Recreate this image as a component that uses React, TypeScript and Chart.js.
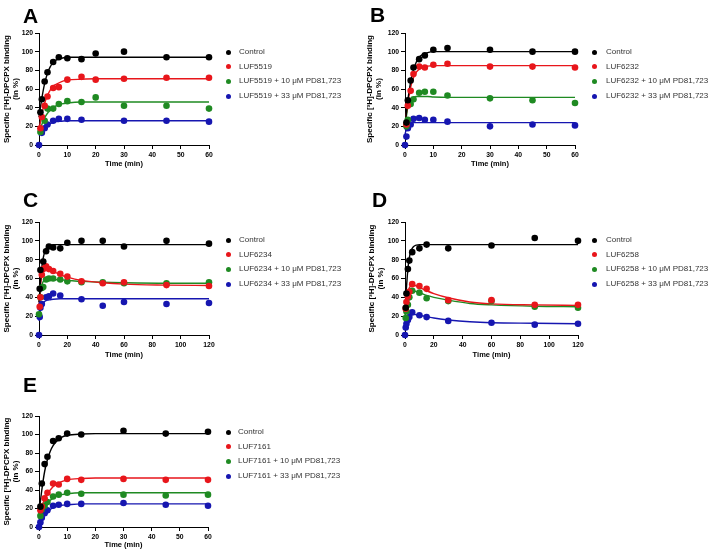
import React, { useEffect, useRef } from 'react';
import { Chart, registerables } from 'chart.js';

Chart.register(...registerables);

const FONT = '"Liberation Sans", Arial, Helvetica, sans-serif';
const COLORS = ['#000000', '#e8161b', '#1f8a22', '#1616b0'];

type Pt = [number, number];

// ---------- tick / axis settings ----------
const yTicks = { min: 0, max: 120, step: 20 };
const yTitle = ['Specific [³H]-DPCPX binding', '(in %)'];
const xTitle = 'Time (min)';

// ---------- fitted-curve sample times ----------
const fitXShort = [0, 1, 2, 3, 4, 5, 6, 8, 10, 15, 20, 30, 45, 60];
const fitXLong = [0, 1, 2, 3, 4, 5, 6, 8, 10, 15, 20, 30, 45, 60, 90, 120];

// ---------- Panel A : LUF5519 ----------
const ctrlA: Pt[] = [[0.5, 35], [1, 49], [2, 68], [3, 78], [5, 89], [7, 94], [10, 93], [15, 92], [20, 98], [30, 100], [45, 94], [60, 94]];
const drugA: Pt[] = [[0.5, 18], [1, 30], [2, 42], [3, 52], [5, 61], [7, 62], [10, 70], [15, 73], [20, 70], [30, 71], [45, 72], [60, 72]];
const pd10A: Pt[] = [[0.5, 14], [2, 26], [3, 39], [5, 39], [7, 44], [10, 47], [15, 46], [20, 51], [30, 42], [45, 42], [60, 39]];
const pd33A: Pt[] = [[0, 0], [1, 13], [2, 18], [3, 22], [5, 26], [7, 28], [10, 28], [15, 27], [30, 26], [45, 26], [60, 25]];
const fitCtrlA = [30, 50, 66, 77, 84, 88, 91, 93, 94, 94, 94, 94, 94, 94];
const fitDrugA = [15, 33, 45, 53, 59, 63, 65, 68, 69.5, 70.5, 71, 71, 71, 71];
const fitPd10A = [12, 22, 29, 34, 37, 40, 42, 44, 45, 46, 46, 46, 46, 46];
const fitPd33A = [10, 15, 19, 21, 23, 24, 25, 25.5, 26, 26, 26, 26, 26, 26];

// ---------- Panel B : LUF6232 ----------
const ctrlB: Pt[] = [[0.5, 24], [1, 48], [2, 69], [3, 83], [5, 92], [7, 96], [10, 102], [15, 104], [30, 102], [45, 100], [60, 100]];
const drugB: Pt[] = [[0.5, 22], [1, 42], [2, 58], [3, 76], [5, 84], [7, 83], [10, 86], [15, 87], [30, 84], [45, 84], [60, 83]];
const pd10B: Pt[] = [[0.5, 20], [1, 27], [2, 44], [3, 49], [5, 56], [7, 57], [10, 57], [15, 53], [30, 50], [45, 48], [60, 45]];
const pd33B: Pt[] = [[0, 0], [0.5, 9], [1, 18], [2, 22], [3, 28], [5, 29], [7, 27], [10, 27], [15, 25], [30, 20], [45, 22], [60, 21]];
const fitCtrlB = [20, 48, 68, 81, 89, 94, 96.5, 99, 100, 100, 100, 100, 100, 100];
const fitDrugB = [22, 45, 62, 72, 78, 81, 83, 84.5, 85, 85, 85, 85, 85, 85];
const fitPd10B = [20, 40, 48, 51, 52, 52, 52, 52, 51.5, 51, 51, 51, 51, 51];
const fitPd33B = [12, 20, 23, 24, 24, 24, 24, 24, 24, 24, 24, 24, 24, 24];

// ---------- Panel C : LUF6234 ----------
const ctrlC: Pt[] = [[0.5, 49], [1, 69], [3, 78], [5, 89], [7, 94], [10, 93], [15, 92], [20, 98], [30, 100], [45, 100], [60, 94], [90, 100], [120, 97]];
const drugC: Pt[] = [[0.5, 30], [1, 40], [2, 64], [3, 70], [5, 73], [7, 70], [10, 68], [15, 65], [20, 62], [30, 57], [45, 55], [60, 56], [90, 53], [120, 52]];
const pd10C: Pt[] = [[0, 22], [1, 40], [2, 50], [3, 51], [5, 59], [7, 60], [10, 60], [15, 59], [20, 57], [30, 56], [45, 56], [60, 55], [90, 55], [120, 56]];
const pd33C: Pt[] = [[0, 0], [0.5, 19], [1, 29], [2, 33], [5, 40], [7, 41], [10, 44], [15, 42], [30, 38], [45, 31], [60, 35], [90, 33], [120, 34]];
const fitCtrlC = [35, 55, 72, 82, 88, 92, 94, 95.5, 96, 96, 96, 96, 96, 96, 96, 96];
const fitDrugC = [30, 52, 63, 68, 70.5, 71, 70.5, 69, 67.5, 64, 61.5, 58, 55.5, 54, 53, 52.5];
const fitPd10C = [30, 45, 53, 57, 59, 59.5, 59.5, 59.5, 59, 58.5, 58, 57, 56, 55.5, 55, 55];
const fitPd33C = [15, 26, 31, 34, 35.5, 36.5, 37, 37.5, 38, 38.5, 38.5, 38.5, 38.5, 38.5, 38.5, 38.5];

// ---------- Panel D : LUF6258 ----------
const ctrlD: Pt[] = [[0.5, 29], [1, 44], [2, 70], [3, 79], [5, 88], [10, 92], [15, 96], [30, 92], [60, 95], [90, 103], [120, 100]];
const drugD: Pt[] = [[0.5, 28], [1, 35], [2, 41], [3, 46], [5, 54], [10, 52], [15, 49], [30, 37], [60, 37], [90, 32], [120, 32]];
const pd10D: Pt[] = [[0.5, 18], [1, 25], [2, 32], [3, 40], [5, 47], [10, 45], [15, 39], [30, 36], [60, 36], [90, 30], [120, 29]];
const pd33D: Pt[] = [[0, 0], [0.5, 8], [1, 12], [2, 16], [3, 19], [5, 24], [10, 21], [15, 19], [30, 15], [60, 13], [90, 11], [120, 12]];
const fitCtrlD = [25, 50, 70, 82, 89, 92, 94, 95.5, 96, 96, 96, 96, 96, 96, 96, 96];
const fitDrugD = [25, 38, 46, 50, 52, 53, 53, 52, 50.5, 47, 44, 39.5, 35, 33, 32, 31.5];
const fitPd10D = [20, 33, 41, 45, 47, 47.5, 47, 46, 45, 42, 40, 37, 33.5, 32, 30.5, 30];
const fitPd33D = [5, 12, 17, 20, 21.5, 22, 22, 21.5, 21, 19.5, 18, 16, 14, 13, 12.5, 12];

// ---------- Panel E : LUF7161 ----------
const ctrlE: Pt[] = [[0.5, 22], [1, 47], [2, 68], [3, 76], [5, 93], [7, 96], [10, 101], [15, 100], [30, 104], [45, 101], [60, 103]];
const drugE: Pt[] = [[0.5, 18], [1, 22], [2, 31], [3, 37], [5, 47], [7, 46], [10, 52], [15, 51], [30, 52], [45, 51], [60, 51]];
const pd10E: Pt[] = [[0.5, 12], [1, 19], [2, 23], [3, 27], [5, 33], [7, 35], [10, 37], [15, 36], [30, 35], [45, 34], [60, 35]];
const pd33E: Pt[] = [[0, 0], [0.5, 5], [1, 10], [2, 15], [3, 18], [5, 23], [7, 24], [10, 25], [15, 25], [30, 26], [45, 24], [60, 23]];
const fitCtrlE = [15, 40, 60, 73, 82, 88, 92, 97, 99, 100.5, 101, 101, 101, 101];
const fitDrugE = [15, 23, 30, 36, 40, 43.5, 46, 49, 51, 52.5, 53, 53, 53, 53];
const fitPd10E = [10, 17, 22, 26, 29, 31, 33, 35, 36, 37, 37, 37, 37, 37];
const fitPd33E = [5, 10, 14, 17, 19, 21, 22, 23.5, 24, 25, 25, 25, 25, 25];

const drugs = ['LUF5519', 'LUF6232', 'LUF6234', 'LUF6258', 'LUF7161'];
const letters = ['A', 'B', 'C', 'D', 'E'];

function legendLabels(drug: string) {
  return ['Control', drug, `${drug} + 10 μM PD81,723`, `${drug} + 33 μM PD81,723`];
}

interface PanelDef {
  idx: number;
  left: number; top: number; w: number; h: number;
  area: { l: number; t: number; r: number; b: number };
  xMax: number; xStep: number;
  titleX: number; xAxisH: number;
  points: Pt[][];
  fitX: number[];
  fits: number[][];
  legendMarkX: number; legendTextX: number; legendY: number;
  letterX: number; letterY: number;
}

const panels: PanelDef[] = [
  {
    idx: 0, left: 0, top: 0, w: 355, h: 170, area: { l: 39, t: 33, r: 209, b: 145 },
    xMax: 60, xStep: 10, titleX: 7, xAxisH: 24,
    points: [ctrlA, drugA, pd10A, pd33A], fitX: fitXShort, fits: [fitCtrlA, fitDrugA, fitPd10A, fitPd33A],
    legendMarkX: 228, legendTextX: 239, legendY: 52, letterX: 23, letterY: 5,
  },
  {
    idx: 1, left: 355, top: 0, w: 354, h: 170, area: { l: 50, t: 33, r: 220, b: 145 },
    xMax: 60, xStep: 10, titleX: 15, xAxisH: 24,
    points: [ctrlB, drugB, pd10B, pd33B], fitX: fitXShort, fits: [fitCtrlB, fitDrugB, fitPd10B, fitPd33B],
    legendMarkX: 594, legendTextX: 606, legendY: 52, letterX: 370, letterY: 4,
  },
  {
    idx: 2, left: 0, top: 170, w: 355, h: 190, area: { l: 39, t: 52, r: 209, b: 165 },
    xMax: 120, xStep: 20, titleX: 7, xAxisH: 25,
    points: [ctrlC, drugC, pd10C, pd33C], fitX: fitXLong, fits: [fitCtrlC, fitDrugC, fitPd10C, fitPd33C],
    legendMarkX: 228, legendTextX: 239, legendY: 240, letterX: 23, letterY: 189,
  },
  {
    idx: 3, left: 355, top: 170, w: 354, h: 190, area: { l: 50, t: 52, r: 223, b: 165 },
    xMax: 120, xStep: 20, titleX: 17, xAxisH: 25,
    points: [ctrlD, drugD, pd10D, pd33D], fitX: fitXLong, fits: [fitCtrlD, fitDrugD, fitPd10D, fitPd33D],
    legendMarkX: 594, legendTextX: 606, legendY: 240, letterX: 372, letterY: 189,
  },
  {
    idx: 4, left: 0, top: 340, w: 355, h: 212, area: { l: 39, t: 76, r: 208, b: 187 },
    xMax: 60, xStep: 10, titleX: 7, xAxisH: 23,
    points: [ctrlE, drugE, pd10E, pd33E], fitX: fitXShort, fits: [fitCtrlE, fitDrugE, fitPd10E, fitPd33E],
    legendMarkX: 228, legendTextX: 238, legendY: 432, letterX: 23, letterY: 374,
  },
];

const LEGEND_STEP = 14.7;

function Panel({ p }: { p: PanelDef }) {
  const ref = useRef<HTMLCanvasElement | null>(null);

  useEffect(() => {
    if (!ref.current) return;
    const labels = legendLabels(drugs[p.idx]);
    const titleLH = 8.8;
    const titlePad = 2;
    const padLeft = Math.max(0, p.titleX - titleLH / 2 - titlePad);
    const yAxisW = p.area.l - padLeft;
    const datasets: any[] = [];
    p.points.forEach((pts, i) => {
      datasets.push({
        label: labels[i],
        data: pts.map(([x, y]) => ({ x, y })),
        backgroundColor: COLORS[i],
        borderColor: COLORS[i],
        pointRadius: 3.3,
        pointBorderWidth: 0,
        pointHoverRadius: 3.3,
        showLine: false,
        order: 0,
        clip: false,
      });
    });
    p.fits.forEach((ys, i) => {
      datasets.push({
        label: labels[i] + ' fit',
        data: p.fitX.map((x, j) => ({ x, y: ys[j] })),
        borderColor: COLORS[i],
        backgroundColor: COLORS[i],
        borderWidth: 1.4,
        pointRadius: 0,
        showLine: true,
        cubicInterpolationMode: 'monotone',
        fill: false,
        order: 1,
        clip: false,
      });
    });

    const tickFont = { family: FONT, size: 6.8, weight: 'bold' as const };
    const chart = new Chart(ref.current, {
      type: 'scatter',
      data: { datasets },
      options: {
        animation: false,
        responsive: false,
        maintainAspectRatio: false,
        devicePixelRatio: 1,
        events: [],
        layout: {
          padding: {
            left: padLeft,
            top: p.area.t,
            right: p.w - p.area.r,
            bottom: p.h - p.area.b - p.xAxisH,
          },
        },
        plugins: { legend: { display: false }, tooltip: { enabled: false }, title: { display: false } },
        scales: {
          x: {
            type: 'linear',
            min: 0,
            max: p.xMax,
            ticks: { stepSize: p.xStep, font: tickFont, color: '#000', padding: 2, maxRotation: 0, autoSkip: false },
            grid: { drawOnChartArea: false, drawTicks: true, tickLength: 4, tickColor: '#000', tickWidth: 1 },
            border: { display: true, color: '#000', width: 1 },
            title: {
              display: true,
              text: xTitle,
              color: '#000',
              font: { family: FONT, size: 7.5, weight: 'bold', lineHeight: 1.2 },
              padding: { top: 0, bottom: 1 },
            },
            afterFit: (s: any) => { s.height = p.xAxisH; },
          },
          y: {
            type: 'linear',
            min: yTicks.min,
            max: yTicks.max,
            ticks: { stepSize: yTicks.step, font: tickFont, color: '#000', padding: 2, autoSkip: false },
            grid: { drawOnChartArea: false, drawTicks: true, tickLength: 4, tickColor: '#000', tickWidth: 1 },
            border: { display: true, color: '#000', width: 1 },
            title: {
              display: true,
              text: yTitle,
              color: '#000',
              font: { family: FONT, size: 8, weight: 'bold', lineHeight: 1.1 },
              padding: { top: titlePad, bottom: 0 },
            },
            afterFit: (s: any) => { s.width = yAxisW; },
          },
        },
      } as any,
    });
    return () => chart.destroy();
  }, [p]);

  const labels = legendLabels(drugs[p.idx]);

  return (
    <>
      <canvas
        ref={ref}
        width={p.w}
        height={p.h}
        style={{ position: 'absolute', left: p.left, top: p.top, width: p.w, height: p.h, display: 'block' }}
      />
      <div
        style={{
          position: 'absolute', left: p.letterX, top: p.letterY,
          fontFamily: FONT, fontWeight: 'bold', fontSize: 21, lineHeight: '21px', color: '#000',
        }}
      >
        {letters[p.idx]}
      </div>
      {labels.map((lab, i) => {
        const y = p.legendY + i * LEGEND_STEP;
        return (
          <React.Fragment key={i}>
            <div
              style={{
                position: 'absolute', left: p.legendMarkX - 2.5, top: y - 2.5, width: 5, height: 5,
                borderRadius: '50%', background: COLORS[i],
              }}
            />
            <div
              style={{
                position: 'absolute', left: p.legendTextX, top: y - 5, height: 10, lineHeight: '10px',
                fontFamily: FONT, fontSize: 8, color: '#333', whiteSpace: 'nowrap',
              }}
            >
              {lab}
            </div>
          </React.Fragment>
        );
      })}
    </>
  );
}

export default function App() {
  return (
    <div style={{ position: 'absolute', left: 0, top: 0, width: 709, height: 552, background: '#fff', overflow: 'hidden' }}>
      {panels.map((p) => (
        <Panel key={p.idx} p={p} />
      ))}
    </div>
  );
}
